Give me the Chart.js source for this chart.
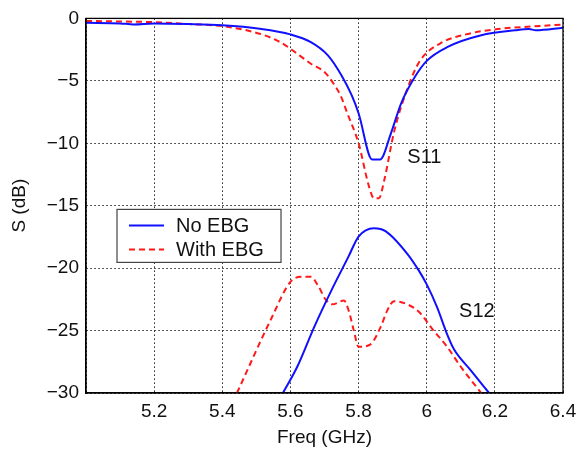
<!DOCTYPE html>
<html lang="en">
<head>
<meta charset="utf-8"/>
<title>S parameters</title>
<style>
  body, html { margin: 0; padding: 0; background: #fff; }
  #wrap { width: 579px; height: 455px; }
</style>
</head>
<body>
<div id="wrap"><canvas id="chart" width="579" height="455"></canvas></div>
<script src="https://cdn.jsdelivr.net/npm/chart.js"></script>
<script>
  // frequency (GHz) / S (dB)
  const s11NoFreq = [5.0, 5.1, 5.14, 5.2, 5.3, 5.4, 5.51, 5.6, 5.66, 5.71, 5.75, 5.78, 5.8, 5.84, 5.863, 5.895, 5.925, 5.965, 6.0, 6.06, 6.16, 6.26, 6.3, 6.32, 6.4];
  const s11NoDb   = [-0.35, -0.4, -0.48, -0.4, -0.45, -0.55, -0.83, -1.28, -1.9, -2.96, -4.57, -6.17, -7.6, -11.3, -11.3, -9.2, -6.8, -4.7, -3.4, -2.3, -1.35, -0.95, -0.85, -0.95, -0.75];

  const s11EbgFreq = [5.0, 5.1, 5.2, 5.3, 5.4, 5.51, 5.57, 5.6, 5.66, 5.7, 5.727, 5.747, 5.767, 5.8, 5.83, 5.845, 5.86, 5.875, 5.905, 5.945, 5.98, 6.04, 6.12, 6.21, 6.31, 6.4];
  const s11EbgDb   = [-0.2, -0.25, -0.3, -0.45, -0.62, -1.23, -1.9, -2.43, -3.63, -4.3, -5.24, -6.17, -7.6, -10.0, -13.4, -14.4, -14.4, -13.0, -9.0, -5.5, -3.4, -2.0, -1.25, -0.85, -0.64, -0.5];

  const s12NoFreq = [5.578, 5.62, 5.67, 5.72, 5.77, 5.8, 5.845, 5.88, 5.943, 5.977, 6.0, 6.03, 6.06, 6.08, 6.13, 6.183];
  const s12NoDb   = [-30, -27.9, -24.7, -21.8, -19.1, -17.47, -16.8, -17.05, -18.85, -20.2, -21.3, -23.1, -25.3, -26.5, -28.2, -30];

  const s12EbgFreq = [5.443, 5.541, 5.6, 5.63, 5.66, 5.683, 5.703, 5.723, 5.757, 5.771, 5.786, 5.8, 5.835, 5.865, 5.884, 5.904, 5.943, 5.977, 6.02, 6.06, 6.1, 6.16];
  const s12EbgDb   = [-30, -24.2, -21.1, -20.7, -20.7, -21.5, -22.5, -22.9, -22.6, -23.4, -25.0, -26.3, -26.1, -24.7, -23.4, -22.65, -22.9, -23.5, -25.0, -26.3, -27.9, -30];

  const seriesNames = ['No EBG', 'With EBG'];
  const curveLabels = [
    { text: 'S11', f: 5.943, db: -11.1 },
    { text: 'S12', f: 6.095, db: -23.5 }
  ];

  const FONT = '"Liberation Sans", Arial, sans-serif';
  const BLUE = '#1010ff';
  const RED = '#ff1a1a';

  function pts(xs, ys) {
    return xs.map((x, i) => ({ x: x, y: ys[i] }));
  }

  function fmt(v) {
    const r = Math.round(v * 10) / 10;
    return r < 0 ? '\u2212' + String(-r) : String(r);
  }

  const lineBase = {
    showLine: true,
    pointRadius: 0,
    borderWidth: 2,
    cubicInterpolationMode: 'monotone',
    fill: false
  };

  const extras = {
    id: 'extras',
    afterDraw(chart) {
      const ctx = chart.ctx;
      const a = chart.chartArea;
      const xs = chart.scales.x, ys = chart.scales.y;
      ctx.save();
      // frame
      ctx.strokeStyle = '#000';
      ctx.lineWidth = 1.3;
      ctx.setLineDash([]);
      ctx.strokeRect(a.left, a.top, a.right - a.left, a.bottom - a.top);

      // curve labels
      ctx.fillStyle = '#111';
      ctx.font = '20px ' + FONT;
      ctx.textAlign = 'left';
      ctx.textBaseline = 'middle';
      curveLabels.forEach(l => {
        ctx.fillText(l.text, xs.getPixelForValue(l.f), ys.getPixelForValue(l.db));
      });

      // legend box
      const bx = a.left + 31, by = a.top + 191, bw = 164, bh = 53;
      ctx.fillStyle = '#fff';
      ctx.fillRect(bx, by, bw, bh);
      ctx.strokeStyle = '#444';
      ctx.lineWidth = 1.2;
      ctx.strokeRect(bx, by, bw, bh);
      const colors = [BLUE, RED];
      const dashes = [[], [6, 4]];
      seriesNames.forEach((name, i) => {
        const yy = by + 16 + i * 24;
        ctx.strokeStyle = colors[i];
        ctx.lineWidth = 2;
        ctx.setLineDash(dashes[i]);
        ctx.beginPath();
        ctx.moveTo(bx + 12, yy);
        ctx.lineTo(bx + 47, yy);
        ctx.stroke();
        ctx.setLineDash([]);
        ctx.fillStyle = '#111';
        ctx.fillText(name, bx + 59, yy + 1);
      });
      ctx.restore();
    }
  };

  new Chart(document.getElementById('chart').getContext('2d'), {
    type: 'scatter',
    data: {
      datasets: [
        Object.assign({ label: 'S11 No EBG', data: pts(s11NoFreq, s11NoDb), borderColor: BLUE }, lineBase),
        Object.assign({ label: 'S11 With EBG', data: pts(s11EbgFreq, s11EbgDb), borderColor: RED, borderDash: [6, 4] }, lineBase),
        Object.assign({ label: 'S12 No EBG', data: pts(s12NoFreq, s12NoDb), borderColor: BLUE }, lineBase),
        Object.assign({ label: 'S12 With EBG', data: pts(s12EbgFreq, s12EbgDb), borderColor: RED, borderDash: [6, 4] }, lineBase)
      ]
    },
    options: {
      responsive: false,
      animation: false,
      layout: { padding: { left: 8, top: 18, right: 16, bottom: 6 } },
      plugins: {
        legend: { display: false },
        tooltip: { enabled: false }
      },
      scales: {
        x: {
          type: 'linear',
          min: 5.0,
          max: 6.4,
          afterFit(scale) {
            scale.height = 56;
            scale.paddingLeft = 0;
            scale.paddingRight = 12;
          },
          ticks: {
            stepSize: 0.2,
            color: '#111',
            font: { family: FONT, size: 19 },
            padding: 7,
            maxRotation: 0,
            callback: v => (Math.abs(v - 5.0) < 1e-6 ? '' : fmt(v))
          },
          grid: {
            color: '#222',
            lineWidth: 1,
            drawTicks: false
          },
          border: { display: true, color: '#000', width: 1.3, dash: [1.5, 2.5] },
          title: {
            display: true,
            text: 'Freq (GHz)',
            color: '#111',
            font: { family: FONT, size: 19 },
            padding: { top: 2, bottom: 0 }
          }
        },
        y: {
          min: -30,
          max: 0,
          afterFit(scale) { scale.width = 78; },
          ticks: {
            stepSize: 5,
            color: '#111',
            font: { family: FONT, size: 19 },
            padding: 7,
            callback: v => fmt(v)
          },
          grid: {
            color: '#222',
            lineWidth: 1,
            drawTicks: false
          },
          border: { display: true, color: '#000', width: 1.3, dash: [1.5, 2.5] },
          title: {
            display: true,
            text: 'S (dB)',
            color: '#111',
            font: { family: FONT, size: 19 },
            padding: { top: 0, bottom: 4 }
          }
        }
      }
    },
    plugins: [extras]
  });
</script>
</body>
</html>
